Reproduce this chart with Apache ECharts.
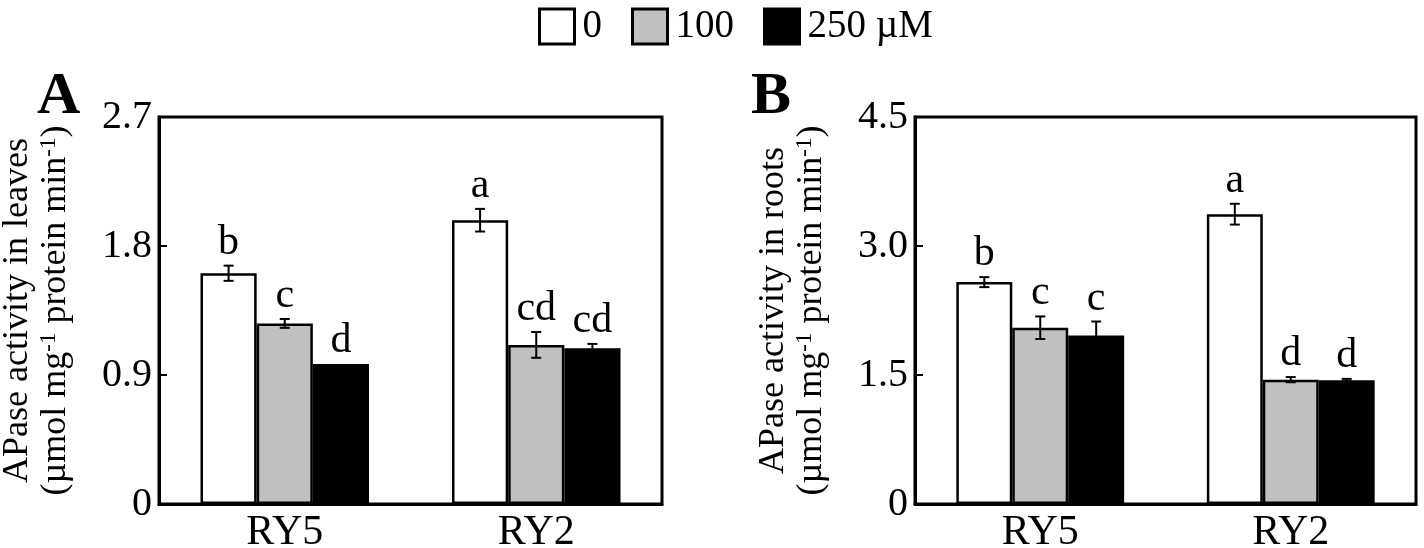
<!DOCTYPE html>
<html>
<head>
<meta charset="utf-8">
<script src="https://cdn.jsdelivr.net/npm/echarts@6/dist/echarts.min.js"></script>
<style>
html,body{margin:0;padding:0;background:#fff;}
#chart{width:1424px;height:548px;}
</style>
</head>
<body>
<div id="chart"></div>
<script>
// ---- data ----
const categories = ['RY5', 'RY2'];
const treatments = ['0', '100', '250 µM'];

// Panel A: leaves
const leaves0 = [1.61, 1.98];
const leaves100 = [1.26, 1.11];
const leaves250 = [0.976, 1.087];
const leavesErr0 = [0.053, 0.079];
const leavesErr100 = [0.031, 0.09];
const leavesErr250 = [0, 0.03];
const leavesLetters0 = ['b', 'a'];
const leavesLetters100 = ['c', 'cd'];
const leavesLetters250 = ['d', 'cd'];

// Panel B: roots
const roots0 = [2.58, 3.37];
const roots100 = [2.05, 1.446];
const roots250 = [1.96, 1.44];
const rootsErr0 = [0.058, 0.121];
const rootsErr100 = [0.131, 0.03];
const rootsErr250 = [0.162, 0.015];
const rootsLetters0 = ['b', 'a'];
const rootsLetters100 = ['c', 'd'];
const rootsLetters250 = ['c', 'd'];

const leavesTicks = {min: 0, max: 2.7, interval: 0.9};
const rootsTicks = {min: 0, max: 4.5, interval: 1.5};

// ---- styles ----
const FONT = "'Liberation Serif', 'Times New Roman', serif";
const colors = ['#ffffff', '#c0c0c0', '#000000'];
const CAT_GAP = 0.33;

const chart = echarts.init(document.getElementById('chart'));

function yName(organ) {
  return '{n|APase activity in ' + organ + '}\n{n|(µmol mg}{s|-1}{n| protein min}{s|-1}{n|)}';
}
const nameRich = {
  n: {fontFamily: FONT, fontSize: 36, color: '#000', lineHeight: 38},
  s: {fontFamily: FONT, fontSize: 23, color: '#000', lineHeight: 38, verticalAlign: 'top', padding: [0, 0, 14, 0]}
};

function makeAxes(gi, ticks, organ) {
  const x = {
    type: 'category', gridIndex: gi, data: categories,
    axisLine: {lineStyle: {color: '#000', width: 3}},
    axisTick: {inside: true, length: 5, lineStyle: {color: '#000', width: 2}},
    axisLabel: {fontFamily: FONT, fontSize: 42, color: '#000', margin: 8}
  };
  const y = {
    type: 'value', gridIndex: gi, min: ticks.min, max: ticks.max, interval: ticks.interval,
    axisLine: {show: true, lineStyle: {color: '#000', width: 3}},
    axisTick: {show: true, inside: true, length: 8, lineStyle: {color: '#000', width: 2}},
    splitLine: {show: false},
    axisLabel: {
      fontFamily: FONT, fontSize: 40, color: '#000', margin: 7,
      formatter: v => (v === 0 ? '0' : v.toFixed(1))
    },
    name: yName(organ), nameLocation: 'middle', nameGap: 84,
    nameTextStyle: {rich: nameRich}
  };
  return [x, y];
}

function barSeries(gi, vals) {
  return vals.map((v, i) => ({
    type: 'bar', name: treatments[i], xAxisIndex: gi, yAxisIndex: gi,
    data: v, barGap: '0%', barCategoryGap: (CAT_GAP * 100) + '%',
    itemStyle: {color: colors[i], borderColor: '#000', borderWidth: 2.5},
    z: 2
  }));
}

function errSeries(gi, vals, errs, letters) {
  return vals.map((v, i) => ({
    type: 'custom', xAxisIndex: gi, yAxisIndex: gi, z: 5,
    data: v.map((m, k) => [k, m, errs[i][k]]),
    renderItem: function (params, api) {
      const k = api.value(0), m = api.value(1), e = api.value(2);
      const band = api.size([1, 0])[0];
      const barW = band * (1 - CAT_GAP) / 3;
      const c = api.coord([k, m]);
      const x = c[0] + (i - 1) * barW;
      const yT = api.coord([k, m + e])[1];
      const yB = api.coord([k, m - e])[1];
      const cap = 5;
      const ls = {stroke: '#000', lineWidth: 2};
      const children = [];
      if (e > 0) {
        children.push({type: 'line', shape: {x1: x, y1: yT, x2: x, y2: yB}, style: ls});
        children.push({type: 'line', shape: {x1: x - cap, y1: yT, x2: x + cap, y2: yT}, style: ls});
        children.push({type: 'line', shape: {x1: x - cap, y1: yB, x2: x + cap, y2: yB}, style: ls});
      }
      children.push({
        type: 'text',
        style: {
          text: letters[i][params.dataIndex], x: x, y: yT - 2,
          textAlign: 'center', textVerticalAlign: 'bottom',
          fontFamily: FONT, fontSize: 42, fill: '#000'
        }
      });
      return {type: 'group', children: children};
    }
  }));
}

const [xA, yA] = makeAxes(0, leavesTicks, 'leaves');
const [xB, yB] = makeAxes(1, rootsTicks, 'roots');

const option = {
  backgroundColor: '#fff',
  animation: false,
  title: [
    {text: 'A', left: 32, top: 62, textStyle: {fontFamily: FONT, fontSize: 60, fontWeight: 'bold', color: '#000'}},
    {text: 'B', left: 746, top: 62, textStyle: {fontFamily: FONT, fontSize: 60, fontWeight: 'bold', color: '#000'}}
  ],
  legend: {
    left: 533, top: 2, itemWidth: 35, itemHeight: 35, itemGap: 29,
    icon: 'rect',
    data: treatments.map((t, i) => ({
      name: t, itemStyle: {color: colors[i], borderColor: '#000', borderWidth: 3}
    })),
    textStyle: {fontFamily: FONT, fontSize: 39, color: '#000', padding: [0, 0, 0, 3]}
  },
  grid: [
    {left: 159, right: 762, top: 117, bottom: 44, show: true, borderColor: '#000', borderWidth: 3,
     containLabel: false, outerBoundsMode: 'none'},
    {left: 915, right: 8, top: 117, bottom: 44, show: true, borderColor: '#000', borderWidth: 3,
     containLabel: false, outerBoundsMode: 'none'}
  ],
  xAxis: [xA, xB],
  yAxis: [yA, yB],
  series: [
    ...barSeries(0, [leaves0, leaves100, leaves250]),
    ...errSeries(0, [leaves0, leaves100, leaves250], [leavesErr0, leavesErr100, leavesErr250],
                 [leavesLetters0, leavesLetters100, leavesLetters250]),
    ...barSeries(1, [roots0, roots100, roots250]),
    ...errSeries(1, [roots0, roots100, roots250], [rootsErr0, rootsErr100, rootsErr250],
                 [rootsLetters0, rootsLetters100, rootsLetters250])
  ]
};
chart.setOption(option);
</script>
</body>
</html>
